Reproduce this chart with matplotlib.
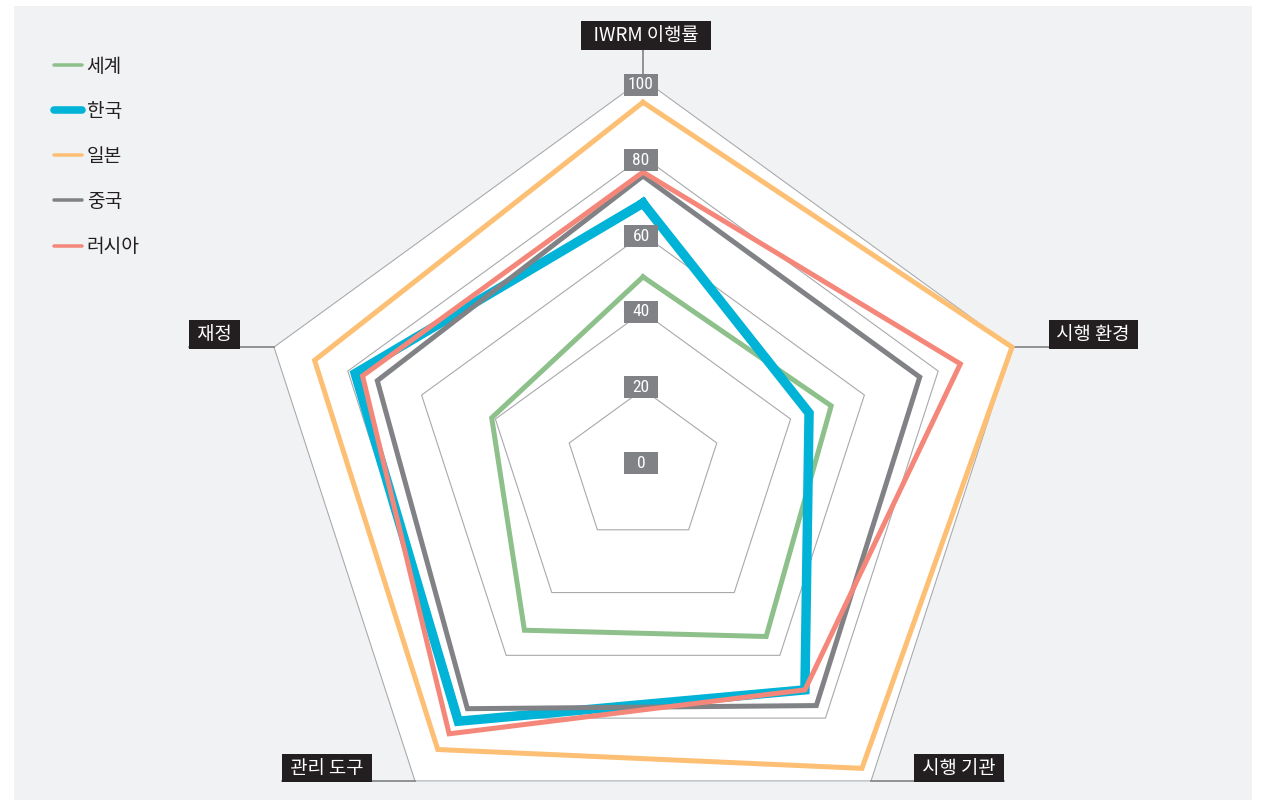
import numpy as np
import matplotlib.pyplot as plt
from matplotlib.lines import Line2D
from matplotlib.patches import Rectangle

plt.rcParams['font.family'] = ['Noto Sans CJK KR', 'DejaVu Sans']

# 데이터
axes_labels = ['IWRM 이행률', '시행 환경', '시행 기관', '관리 도구', '재정']
series_names = ['세계', '한국', '일본', '중국', '러시아']
world = [49, 51, 54, 52, 41]
korea = [68, 45, 71, 81, 78]
japan = [94, 100, 96, 90, 89]
china = [75, 75, 76, 77, 72]
russia = [76, 86, 71, 85, 76]
ticks = [0, 20, 40, 60, 80, 100]

colors = ['#8dc08a', '#00b3d7', '#fdbf73', '#808285', '#f4877a']
widths = [3.6, 6.8, 3.6, 3.6, 3.6]
# ordine di disegno: il blu sopra tutti
draw_order = [2, 4, 3, 0, 1]
all_series = [world, korea, japan, china, russia]

n = len(axes_labels)
theta = np.arange(n) * 2 * np.pi / n


def to_xy(vals):
    v = np.array(list(vals) + [vals[0]], dtype=float)
    t = np.append(theta, theta[0])
    return v * np.sin(t), v * np.cos(t)


W, H = 1266, 802
fig = plt.figure(figsize=(W / 100, H / 100), dpi=100)
fig.patch.set_facecolor('white')
fig.patches.append(Rectangle((14 / W, 2 / H), 1238 / W, 794 / H, transform=fig.transFigure,
                             facecolor='#f1f2f4', edgecolor='none', zorder=-5))

ax = fig.add_axes([0, 0, 1, 1])
ax.set_zorder(2)
ax.set_facecolor('none')
scale = 3.88  # pixel per unita'
cx, cy = 643, 467
ax.set_xlim(-cx / scale, (W - cx) / scale)
ax.set_ylim(-(H - cy) / scale, cy / scale)
ax.axis('off')

# sfondo bianco del pentagono
px, py = to_xy([100] * n)
ax.fill(px, py, color='white', zorder=1)

# griglia
for r in ticks[1:]:
    gx, gy = to_xy([r] * n)
    ax.plot(gx, gy, color='#a7a9ac', lw=0.8, zorder=2)

# serie
for i in draw_order:
    sx, sy = to_xy(all_series[i])
    ax.plot(sx, sy, color=colors[i], lw=widths[i], solid_joinstyle='miter', zorder=3 + i)

# etichette dei valori (box grigi di larghezza fissa)
bw, bh = 34 / scale, 22 / scale
for r in ticks:
    yc = 1.0 + 0.975 * r
    ax.add_patch(Rectangle((-bw / 2 - 0.5, yc - bh / 2), bw, bh, facecolor='#808285',
                           edgecolor='none', zorder=10))
    ax.text(-0.5, yc, str(r), ha='center', va='center', fontsize=12.5, color='white',
            family=['Roboto Condensed', 'Roboto', 'DejaVu Sans'], zorder=11)

# etichette degli assi
lab_kw = dict(fontsize=13.5, color='white', zorder=12,
              bbox=dict(boxstyle='square,pad=0.2', fc='#231f20', ec='none'))
line_kw = dict(color='#808285', lw=1.2, zorder=2.5)
off = 3.3

# alto
ax.plot([0, 0], [100, 108], **line_kw)
ax.text(0.8, 111.2, '  ' + axes_labels[0] + '  ', ha='center', va='center', **lab_kw)

vx, vy = to_xy([100] * n)
# destra
ax.plot([vx[1], 105], [vy[1], vy[1]], **line_kw)
ax.text(105.5, vy[1] + off, ' ' + axes_labels[1] + ' ', ha='left', va='center', **lab_kw)
# basso destra
ax.plot([vx[2], 93], [vy[2], vy[2]], **line_kw)
ax.text(92, vy[2] + off, ' ' + axes_labels[2] + ' ', ha='right', va='center', **lab_kw)
# basso sinistra
ax.plot([vx[3], -93], [vy[3], vy[3]], **line_kw)
ax.text(-92, vy[3] + off, ' ' + axes_labels[3] + ' ', ha='left', va='center', **lab_kw)
# sinistra
ax.plot([vx[4], -117], [vy[4], vy[4]], **line_kw)
ax.text(-116, vy[4] + off, ' ' + axes_labels[4] + ' ', ha='left', va='center', **lab_kw)

# legenda
handles = [Line2D([], [], color=colors[i], lw=widths[i] * (0.8 if i == 1 else 0.7),
                  solid_capstyle='round') for i in range(len(series_names))]
leg = fig.legend(handles, series_names, loc='upper left', bbox_to_anchor=(0.029, 0.952),
                 frameon=False, fontsize=13.8, handlelength=1.45, handletextpad=0.25,
                 labelspacing=1.26, labelcolor='#231f20')
leg.set_zorder(3)

plt.savefig('out.png', dpi=100)
